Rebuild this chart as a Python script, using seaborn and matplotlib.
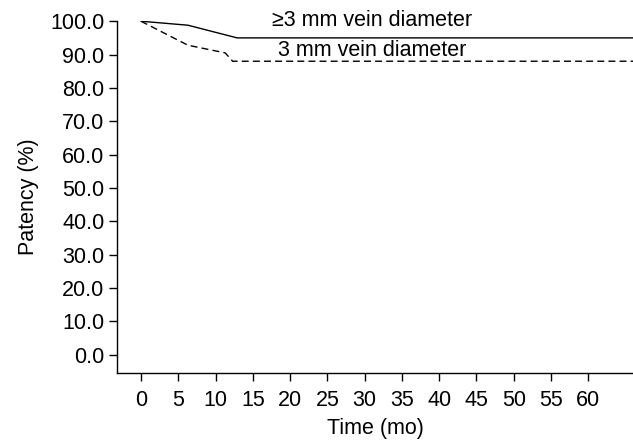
import pandas as pd
import matplotlib
matplotlib.use("Agg")
import matplotlib.pyplot as plt
import seaborn as sns

# --- Data ---
time_ge3 = [0, 6.3, 12.9, 66]
patency_ge3 = [100.0, 98.8, 95.0, 95.0]
time_lt3 = [0, 6.3, 11.3, 12.3, 66]
patency_lt3 = [100.0, 92.8, 90.5, 88.0, 88.0]
x_ticks = list(range(0, 61, 5))
y_ticks = [0, 10, 20, 30, 40, 50, 60, 70, 80, 90, 100]
label_ge3 = "\u22653 mm vein diameter"
label_lt3 = "3 mm vein diameter"

df = pd.concat([
    pd.DataFrame({"time": time_ge3, "patency": patency_ge3, "group": label_ge3}),
    pd.DataFrame({"time": time_lt3, "patency": patency_lt3, "group": label_lt3}),
])

sns.set_theme(style="ticks")
plt.rcParams['font.family'] = ['Liberation Sans', 'DejaVu Sans']
plt.rcParams['text.color'] = 'black'
plt.rcParams['axes.labelcolor'] = 'black'

fig = plt.figure(figsize=(6.33, 4.42), dpi=100)
ax = fig.add_axes([0.185, 0.156, 0.815, 0.796])

sns.lineplot(data=df, x="time", y="patency", style="group",
             dashes={label_ge3: "", label_lt3: (5, 3)},
             color="black", linewidth=1.0, legend=False, ax=ax, sort=False)

ax.text(31, 100.2, label_ge3, ha="center", va="center", fontsize=15.5)
ax.text(31, 91.2, label_lt3, ha="center", va="center", fontsize=15.5)

ax.set_xlim(-3.2, 66)
ax.set_ylim(-5.5, 100)
ax.set_xticks(x_ticks)
ax.set_yticks(y_ticks)
ax.set_yticklabels([f"{v:.1f}" for v in y_ticks])
ax.tick_params(direction="out", length=6, width=1.0, colors="black",
               labelsize=15.5, pad=3)
ax.tick_params(axis="x", pad=6)
for side in ["top", "right"]:
    ax.spines[side].set_visible(False)
for side in ["left", "bottom"]:
    ax.spines[side].set_color("black")
    ax.spines[side].set_linewidth(1.0)

ax.set_xlabel("Time (mo)", fontsize=15.5, labelpad=5)
ax.set_ylabel("Patency (%)", fontsize=15.5, labelpad=8)

fig.savefig("out.png", dpi=100)
